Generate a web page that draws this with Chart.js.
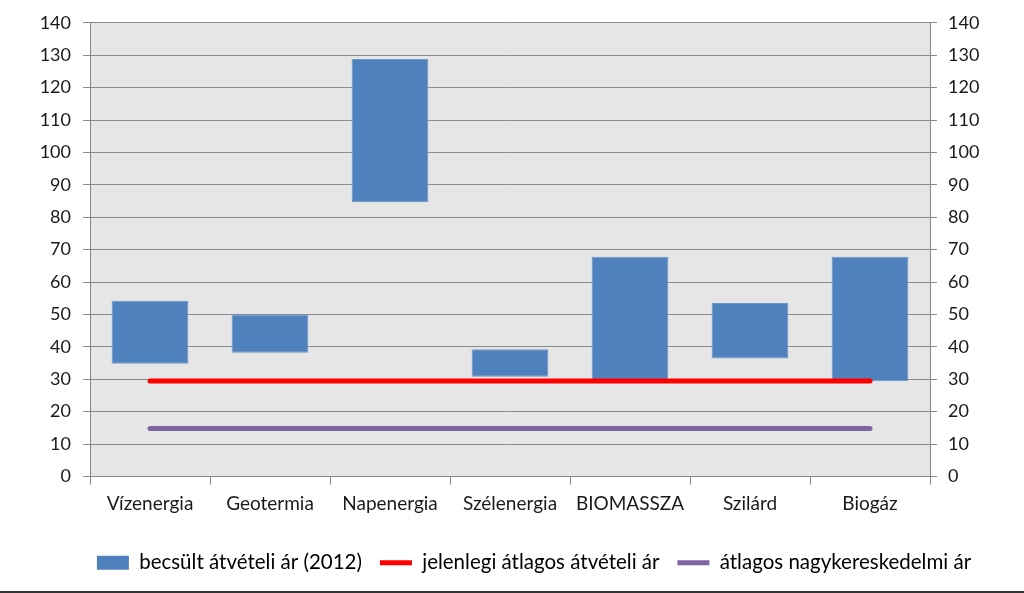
<!DOCTYPE html>
<html>
<head>
<meta charset="utf-8">
<script src="https://cdn.jsdelivr.net/npm/chart.js@4.4.0/dist/chart.umd.min.js"></script>
<style>
  html, body { margin: 0; padding: 0; background: #fff; }
  #wrap { width: 1024px; height: 593px; position: relative; }
</style>
</head>
<body>
<div id="wrap"><canvas id="c" width="1024" height="593"></canvas></div>
<script>
const categories = ['Vízenergia', 'Geotermia', 'Napenergia', 'Szélenergia', 'BIOMASSZA', 'Szilárd', 'Biogáz'];
const priceLow  = [34.8, 38.2, 84.6, 30.8, 29.8, 36.4, 29.4];
const priceHigh = [54.2, 50.0, 128.8, 39.3, 67.8, 53.5, 67.8];
const currentAvgFeedIn = [29.5, 29.5, 29.5, 29.5, 29.5, 29.5, 29.5];
const avgWholesale = [14.8, 14.8, 14.8, 14.8, 14.8, 14.8, 14.8];
const seriesNames = ['becsült átvételi ár (2012)', 'jelenlegi átlagos átvételi ár', 'átlagos nagykereskedelmi ár'];
const yMin = 0, yMax = 140, yStep = 10;

const FONT = 'Lato, "Open Sans", sans-serif';
const TEXT = '#1a1a1a';

const floating = categories.map((c, i) => [priceLow[i], priceHigh[i]]);

const bgPlugin = {
  id: 'bg',
  afterLayout(chart) {
    if (chart.legend) { chart.legend.left += 22; chart.legend.right += 22; }
  },
  beforeDraw(chart) {
    const a = chart.chartArea, ctx = chart.ctx;
    ctx.save();
    ctx.fillStyle = '#e6e6e6';
    ctx.fillRect(a.left, a.top, a.right - a.left, a.bottom - a.top);
    ctx.restore();
  },
  afterDraw(chart) {
    const ctx = chart.ctx;
    ctx.save();
    ctx.fillStyle = '#333';
    ctx.fillRect(0, chart.height - 2, chart.width, 2);
    ctx.restore();
  }
};

new Chart(document.getElementById('c'), {
  data: {
    labels: categories,
    datasets: [
      {
        type: 'bar',
        label: seriesNames[0],
        data: floating,
        backgroundColor: '#4f81bd',
        borderColor: '#6a95c9',
        borderWidth: 1,
        borderSkipped: false,
        categoryPercentage: 1.0,
        barPercentage: 0.64,
        order: 2,
        yAxisID: 'y'
      },
      {
        type: 'line',
        label: seriesNames[1],
        data: currentAvgFeedIn,
        borderColor: '#ff0000',
        backgroundColor: '#ff0000',
        borderWidth: 5,
        borderCapStyle: 'round',
        pointRadius: 0,
        order: 1,
        yAxisID: 'y'
      },
      {
        type: 'line',
        label: seriesNames[2],
        data: avgWholesale,
        borderColor: '#8064a2',
        backgroundColor: '#8064a2',
        borderWidth: 5,
        borderCapStyle: 'round',
        pointRadius: 0,
        order: 0,
        yAxisID: 'y'
      }
    ]
  },
  options: {
    responsive: false,
    animation: false,
    layout: { padding: { top: 20, bottom: 10, left: 0, right: 0 } },
    plugins: {
      tooltip: { enabled: false },
      legend: {
        position: 'bottom',
        labels: {
          font: { family: FONT, size: 20.5 },
          color: TEXT,
          usePointStyle: true,
          pointStyleWidth: 32,
          boxHeight: 14,
          padding: 18,
          generateLabels(chart) {
            return chart.data.datasets.map((ds, i) => ({
              text: ds.label,
              datasetIndex: i,
              fillStyle: ds.backgroundColor,
              strokeStyle: ds.type === 'bar' ? ds.backgroundColor : ds.borderColor,
              lineWidth: ds.type === 'bar' ? 0 : 5,
              lineCap: 'butt',
              pointStyle: ds.type === 'bar' ? 'rect' : 'line',
              hidden: false
            }));
          }
        }
      }
    },
    scales: {
      x: {
        type: 'category',
        offset: true,
        grid: { offset: true, drawOnChartArea: false, drawTicks: true, tickLength: 8, color: '#888' },
        border: { color: '#888', width: 1 },
        ticks: { font: { family: FONT, size: 19 }, color: TEXT, padding: 8, maxRotation: 0 },
        afterFit(s) { s.height = 58; }
      },
      y: {
        position: 'left',
        min: yMin, max: yMax,
        ticks: { stepSize: yStep, font: { family: FONT, size: 18 }, color: TEXT, padding: 12 },
        grid: { color: '#8c8c8c', tickLength: 7, drawTicks: true },
        border: { color: '#888', width: 1 },
        afterFit(s) { s.width = 90; }
      },
      y2: {
        position: 'right',
        min: yMin, max: yMax,
        ticks: { stepSize: yStep, font: { family: FONT, size: 18 }, color: TEXT, padding: 11 },
        grid: { drawOnChartArea: false, color: '#888', tickLength: 7, drawTicks: true },
        border: { color: '#888', width: 1 },
        afterFit(s) { s.width = 94; }
      }
    }
  },
  plugins: [bgPlugin]
});
</script>
</body>
</html>
